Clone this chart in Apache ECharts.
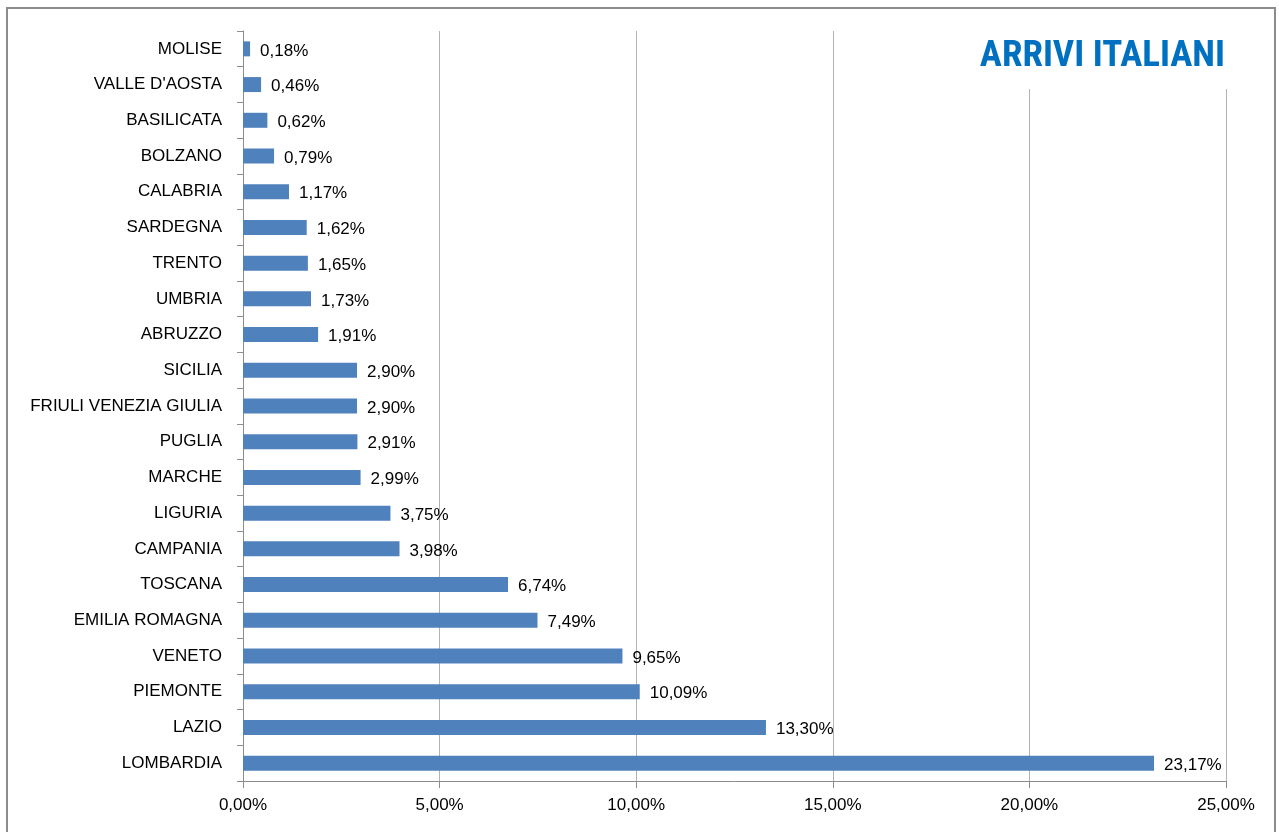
<!DOCTYPE html>
<html>
<head>
<meta charset="utf-8">
<script src="https://cdn.jsdelivr.net/npm/echarts@6/dist/echarts.min.js"></script>
<style>
  html, body { margin: 0; padding: 0; background: #fff; overflow: hidden; }
  #wrap { position: relative; width: 1279px; height: 832px; }
  #chart { position: absolute; left: 0; top: 0; width: 1279px; height: 832px; }
  #frame { position: absolute; left: 6px; top: 7px; right: 3px; bottom: -20px; border: 2px solid #8c8c8c; pointer-events: none; }
</style>
</head>
<body>
<div id="wrap">
  <div id="chart"></div>
  <div id="frame"></div>
</div>
<script>
// regioni dal basso verso l'alto
const regions = [
  'LOMBARDIA', 'LAZIO', 'PIEMONTE', 'VENETO', 'EMILIA ROMAGNA', 'TOSCANA',
  'CAMPANIA', 'LIGURIA', 'MARCHE', 'PUGLIA', 'FRIULI VENEZIA GIULIA', 'SICILIA',
  'ABRUZZO', 'UMBRIA', 'TRENTO', 'SARDEGNA', 'CALABRIA', 'BOLZANO',
  'BASILICATA', "VALLE D'AOSTA", 'MOLISE'
]
const shares = [
  23.17, 13.30, 10.09, 9.65, 7.49, 6.74,
  3.98, 3.75, 2.99, 2.91, 2.90, 2.90,
  1.91, 1.73, 1.65, 1.62, 1.17, 0.79,
  0.62, 0.46, 0.18
]
const xTicks = [0, 5, 10, 15, 20, 25]

const fmt = v => v.toFixed(2).replace('.', ',') + '%'
const font = "'Liberation Sans', Arial, sans-serif"

const chart = echarts.init(document.getElementById('chart'))
chart.setOption({
  animation: false,
  title: {
    text: 'ARRIVI ITALIANI',
    right: 48,
    top: 30,
    backgroundColor: '#fff',
    padding: [8, 6, 14, 14],
    textStyle: {
      color: '#0070C0',
      fontFamily: "'Liberation Sans Narrow', 'Roboto Condensed', " + font,
      fontWeight: 'bold',
      fontSize: 37
    },
    z: 10
  },
  grid: {
    left: 243,
    right: 53,
    top: 31,
    bottom: 51
  },
  xAxis: {
    type: 'value',
    min: xTicks[0],
    max: xTicks[xTicks.length - 1],
    interval: 5,
    axisLine: { show: true, lineStyle: { color: '#8c8c8c', width: 1 } },
    axisTick: { show: true, length: 7, lineStyle: { color: '#8c8c8c' } },
    axisLabel: {
      margin: 16,
      color: '#000',
      fontFamily: font,
      fontSize: 17,
      formatter: v => fmt(v)
    },
    splitLine: { show: true, lineStyle: { color: '#b3b3b3', width: 1 } }
  },
  yAxis: {
    type: 'category',
    data: regions,
    axisLine: { show: true, lineStyle: { color: '#8c8c8c', width: 1 } },
    axisTick: { show: true, length: 6, lineStyle: { color: '#8c8c8c' } },
    axisLabel: {
      margin: 21,
      color: '#000',
      fontFamily: font,
      fontSize: 17
    }
  },
  series: [{
    type: 'bar',
    data: shares,
    barWidth: 15,
    itemStyle: { color: '#4F81BD' },
    label: {
      show: true,
      position: 'right',
      distance: 10,
      offset: [0, 2],
      color: '#000',
      fontFamily: font,
      fontSize: 17,
      formatter: p => fmt(p.value)
    }
  }]
})
</script>
</body>
</html>
